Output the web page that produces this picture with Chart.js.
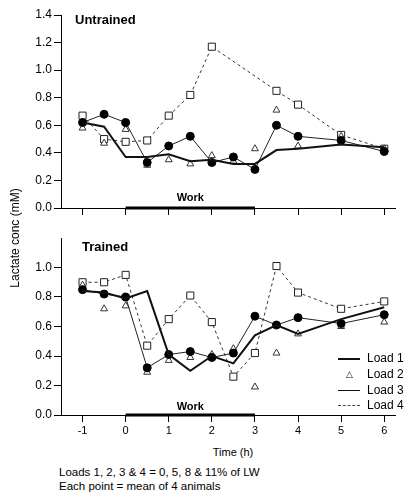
<!DOCTYPE html>
<html>
<head>
<meta charset="utf-8">
<script src="https://cdn.jsdelivr.net/npm/chart.js@4.4.1/dist/chart.umd.min.js"></script>
<style>
body { margin:0; background:#fff; font-family:"Liberation Sans", Arial, sans-serif; color:#000; }
#wrap { position:relative; width:405px; height:492px; overflow:hidden; }
canvas { position:absolute; left:0; }
.t { position:absolute; white-space:nowrap; }
.lg { position:absolute; left:338px; font-size:12px; height:15px; line-height:15px; }
.lg span { display:inline-block; width:22px; vertical-align:middle; margin-right:7px; }
</style>
</head>
<body>
<div id="wrap">
  <canvas id="topChart" width="405" height="225" style="top:0"></canvas>
  <canvas id="botChart" width="405" height="215" style="top:225px"></canvas>
  <div class="t" style="left:75px;top:12px;font-weight:bold;font-size:13px">Untrained</div>
  <div class="t" style="left:82px;top:239px;font-weight:bold;font-size:13px">Trained</div>
  <div class="t" style="left:15px;top:238px;font-size:12px;transform:translate(-50%,-50%) rotate(-90deg)">Lactate conc (mM)</div>
  <div class="t" style="left:233px;top:452px;font-size:11px;transform:translate(-50%,-50%)">Time (h)</div>
  <div class="t" style="left:59px;top:466px;font-size:11.5px">Loads 1, 2, 3 &amp; 4 = 0, 5, 8 &amp; 11% of LW</div>
  <div class="t" style="left:59px;top:480px;font-size:11.5px">Each point = mean of 4 animals</div>
  <div class="lg" style="top:351px"><span style="border-top:2px solid #111"></span>Load 1</div>
  <div class="lg" style="top:367px"><span style="text-align:center;font-size:9px;line-height:9px">&#9651;</span>Load 2</div>
  <div class="lg" style="top:383px"><span style="border-top:1px solid #111"></span>Load 3</div>
  <div class="lg" style="top:398px"><span style="border-top:1px dashed #444"></span>Load 4</div>
</div>
<script>
// time points (h)
var times = [-1, -0.5, 0, 0.5, 1, 1.5, 2, 2.5, 3, 3.5, 4, 5, 6];
var xTicks = [-1, 0, 1, 2, 3, 4, 5, 6];
var workPeriod = [0, 3];

// Untrained
var untrLoad1 = [0.62, 0.59, 0.37, 0.37, 0.39, 0.34, 0.35, 0.32, 0.32, 0.42, 0.43, 0.46, 0.44];
var untrLoad2 = [0.58, 0.47, 0.57, 0.31, 0.35, 0.32, 0.38, 0.34, 0.43, 0.71, 0.45, 0.52, 0.43];
var untrLoad3 = [0.62, 0.68, 0.62, 0.33, 0.45, 0.52, 0.33, 0.37, 0.28, 0.60, 0.52, 0.49, 0.41];
var untrLoad4 = [0.67, 0.50, 0.48, 0.49, 0.67, 0.82, 1.17, null, null, 0.85, 0.75, 0.53, 0.43];
var untrYTicks = [0, 0.2, 0.4, 0.6, 0.8, 1.0, 1.2, 1.4];

// Trained
var trLoad1 = [0.84, 0.83, 0.79, 0.84, 0.41, 0.30, 0.40, 0.35, 0.54, 0.61, 0.55, 0.65, 0.73];
var trLoad2 = [0.88, 0.72, 0.74, 0.29, 0.37, 0.39, 0.41, 0.45, 0.19, 0.42, 0.55, 0.60, 0.63];
var trLoad3 = [0.85, 0.82, 0.80, 0.32, 0.41, 0.43, 0.39, 0.42, 0.67, 0.61, 0.66, 0.62, 0.68];
var trLoad4 = [0.90, 0.90, 0.95, 0.47, 0.65, 0.81, 0.63, 0.26, 0.42, 1.01, 0.83, 0.72, 0.77];
var trYTicks = [0, 0.2, 0.4, 0.6, 0.8, 1.0];

function pts(vals) {
  return vals.map(function (v, i) { return { x: times[i], y: v }; });
}

var workLabel = {
  id: 'workLabel',
  afterDatasetsDraw: function (chart, args, opts) {
    var ctx = chart.ctx, xs = chart.scales.x, ys = chart.scales.y;
    ctx.save();
    ctx.font = 'bold 11px "Liberation Sans", Arial, sans-serif';
    ctx.fillStyle = '#000';
    ctx.textAlign = 'center';
    ctx.textBaseline = 'middle';
    var mx = (xs.getPixelForValue(workPeriod[0]) + xs.getPixelForValue(workPeriod[1])) / 2;
    ctx.fillText('Work', mx, ys.getPixelForValue(0) - opts.dy);
    ctx.restore();
  }
};

function makePanel(id, l1, l2, l3, l4, yMax, yTicks, showX, xH, padTop, workDy) {
  new Chart(document.getElementById(id), {
    type: 'line',
    data: {
      datasets: [
        { label: 'Load 1', data: pts(l1), borderColor: '#111', borderWidth: 2, pointRadius: 0, tension: 0 },
        { label: 'Load 3', data: pts(l3), borderColor: '#222', borderWidth: 1, pointStyle: 'circle',
          pointRadius: 4, backgroundColor: '#000', pointBorderColor: '#000' },
        { label: 'Load 2', data: pts(l2), showLine: false, pointStyle: 'triangle', pointRadius: 4,
          backgroundColor: '#fff', borderColor: '#333', borderWidth: 1 },
        { label: 'Load 4', data: pts(l4), borderColor: '#333', borderWidth: 1, borderDash: [3, 3],
          pointStyle: 'rect', pointRadius: 5, backgroundColor: '#fff', pointBorderColor: '#222', spanGaps: true },
        { label: 'work', data: [{ x: workPeriod[0], y: 0 }, { x: workPeriod[1], y: 0 }],
          borderColor: '#000', borderWidth: 3, pointRadius: 0, clip: false }
      ]
    },
    options: {
      responsive: false,
      animation: false,
      layout: { padding: { left: 0, right: 10, top: padTop, bottom: 0 } },
      plugins: { legend: { display: false }, tooltip: { enabled: false }, workLabel: { dy: workDy } },
      scales: {
        x: {
          type: 'linear', min: -1.5, max: 6.25,
          afterBuildTicks: function (s) { s.ticks = xTicks.map(function (v) { return { value: v }; }); },
          afterFit: function (s) { s.height = xH; },
          grid: { drawOnChartArea: false, tickLength: 7, color: '#000' },
          border: { color: '#000', width: 1 },
          ticks: {
            padding: 2, color: '#000', font: { size: 11, family: '"Liberation Sans", Arial, sans-serif' },
            callback: function (v) { return showX ? String(v) : ''; }
          }
        },
        y: {
          min: 0, max: yMax,
          afterBuildTicks: function (s) { s.ticks = yTicks.map(function (v) { return { value: v }; }); },
          afterFit: function (s) { s.width = 61; },
          grid: { drawOnChartArea: false, tickLength: 7, color: '#000' },
          border: { color: '#000', width: 1 },
          ticks: {
            padding: 2, color: '#000', font: { size: 12, family: '"Liberation Sans", Arial, sans-serif' },
            callback: function (v) { return Number(v).toFixed(1); }
          }
        }
      }
    },
    plugins: [workLabel]
  });
}

makePanel('topChart', untrLoad1, untrLoad2, untrLoad3, untrLoad4, 1.4, untrYTicks, false, 17, 15, 10);
makePanel('botChart', trLoad1, trLoad2, trLoad3, trLoad4, 1.2, trYTicks, true, 25, 13, 8);
</script>
</body>
</html>
